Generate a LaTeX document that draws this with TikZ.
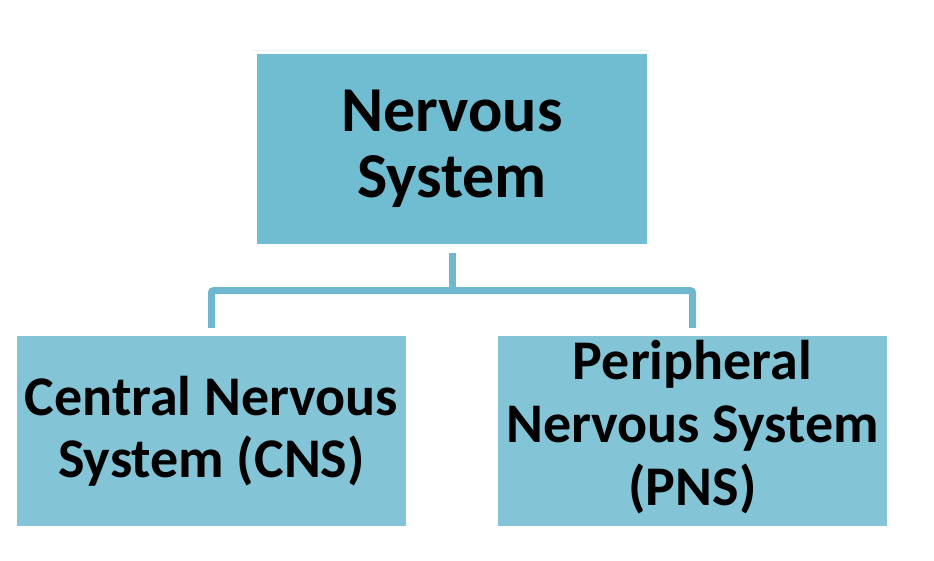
\documentclass[tikz,border=0pt]{standalone}
\usepackage{fontspec}
\setmainfont{Carlito}
\usetikzlibrary{calc}
\begin{document}
\begin{tikzpicture}[x=1pt,y=-1pt]
% Fixing the page
\useasboundingbox (0,0) rectangle (934,560);

% Changing colors
\definecolor{r112g188b209}{rgb}{0.439216,0.737255,0.819608}%
\definecolor{r131g196b214}{rgb}{0.513725,0.768627,0.839216}%
\definecolor{r111g183b206}{rgb}{0.435294,0.717647,0.807843}%
\definecolor{r228g242b246}{rgb}{0.894118,0.949020,0.964706}%

\tikzset{
  topbox/.style={fill=r112g188b209, inner sep=0pt, align=center,
    minimum width=390pt, minimum height=190pt,
    font=\fontsize{64}{66}\selectfont\bfseries},
  subbox/.style={fill=r131g196b214, inner sep=0pt, align=center,
    minimum width=389pt, minimum height=190pt,
    font=\fontsize{56}{62}\selectfont\bfseries},
  subtext/.style={inner sep=0pt, align=center,
    font=\fontsize{56}{63}\selectfont\bfseries},
  bracket/.style={draw=r111g183b206, line width=7pt, rounded corners=2pt}
}

% Drawing faint line above top box
\coordinate (fa) at (253,50.5);
\coordinate (fb) at (650,50.5);
\draw [draw=r228g242b246, line width=1pt] (fa) -- (fb);%

% Drawing box nervous system
\node [topbox] (ns) at (452,149) {Nervous\\System};%

% Drawing box central nervous system
\node [subbox] (cns) at (211.5,431) {Central Nervous\\System (CNS)};%

% Drawing box peripheral nervous system
\node [subbox] (pns) at (692.5,431) {};%
\node [subtext] (pnstext) at ($(pns.center)+(0,-4)$) {Peripheral\\Nervous System\\(PNS)};%

% Drawing bracket ns cns pns
\coordinate (hub) at ($(ns.south)+(0,46.5)$);
\draw [bracket] ($(ns.south)+(0,8.5)$) -- (hub);%
\draw [bracket] (hub) -| ($(cns.north)+(0,-8)$);%
\draw [bracket] (hub) -| ($(pns.north)+(0,-8)$);%
\end{tikzpicture}
\end{document}
